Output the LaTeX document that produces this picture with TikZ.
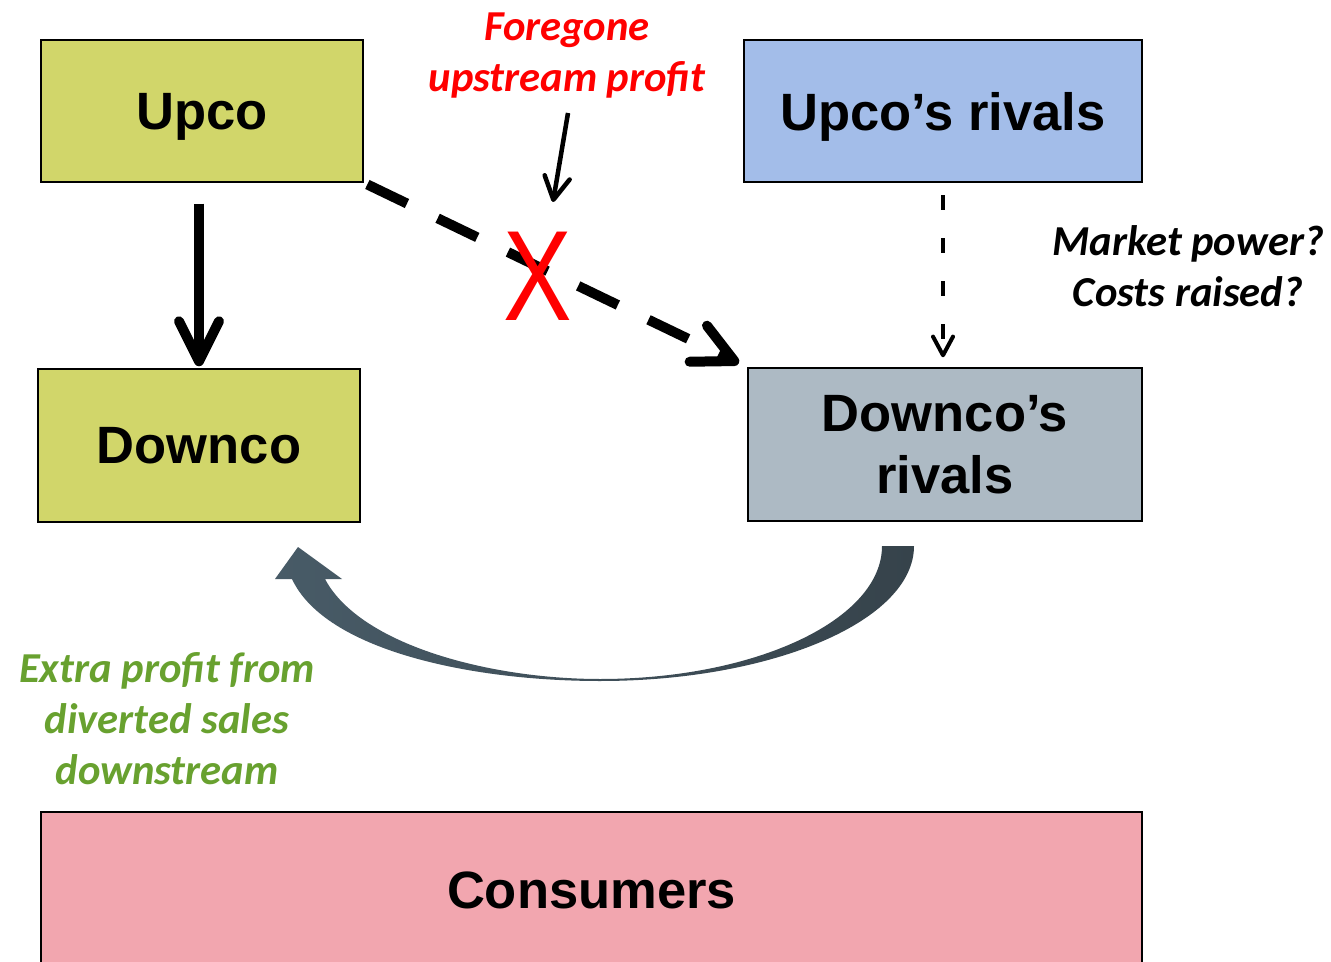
\documentclass[tikz,border=0pt]{standalone}
\usepackage{fontspec}
\setmainfont{Liberation Sans}
\newfontfamily\notefont{Carlito}
\usetikzlibrary{arrows.meta,calc}

\definecolor{firmgreen}{HTML}{D1D66A}
\definecolor{rivalblue}{HTML}{A3BDE9}
\definecolor{rivalgrey}{HTML}{ADBAC4}
\definecolor{consumerpink}{HTML}{F2A6AF}
\definecolor{notegreen}{HTML}{68A12F}
\definecolor{notered}{HTML}{FF0000}
\definecolor{slateleft}{HTML}{485B67}
\definecolor{slateright}{HTML}{36434B}

\begin{document}
\begin{tikzpicture}[x=0.75pt,y=-0.75pt,
  box/.style={draw=black, line width=1.1pt, align=center, inner sep=0pt,
    text depth=0pt, font=\bfseries\fontsize{39.4}{47}\selectfont},
  note/.style={align=center, inner sep=0pt, text depth=0pt,
    font=\notefont\bfseries\itshape\fontsize{32}{38.25}\selectfont},
  bigbarb/.style={-{Straight Barb[round,length=30pt,width=30pt]}},
  smallbarb/.style={-{Straight Barb[round,length=14pt,width=15pt]}}]

\useasboundingbox (0,0) rectangle (1331,962);

% firms and consumers
\node[box, fill=firmgreen, minimum width=241.5pt, minimum height=106.5pt] (upco) at (202,111) {Upco};
\node[box, fill=rivalblue, minimum width=298.5pt, minimum height=106.5pt] (urivals) at (943,111) {Upco’s rivals};
\node[box, fill=firmgreen, minimum width=241.5pt, minimum height=114.75pt] (downco) at (199,445.5) {Downco};
\node[box, fill=rivalgrey, minimum width=295.5pt, minimum height=114.75pt] (drivals) at (945,444.5) {Downco’s\\rivals};
\node[box, fill=consumerpink, minimum width=825.75pt, minimum height=117pt] (consumers) at (591.5,890) {Consumers};

% side notes
\node[note, text=notered] (foregone) at (567,52) {Foregone\\upstream profit};
\node[note, text=black] (power) at (1188,266) {Market power?\\Costs raised?};
\node[note, text=notegreen] (extra) at (167,719) {Extra profit from\\diverted sales\\downstream};

% supply links
\draw[line width=7.5pt, bigbarb, shorten <=15.75pt, shorten >=1.5pt]
  (upco.south -| downco.north) -- (downco.north);
\draw[line width=7.5pt, bigbarb, dash pattern=on 33pt off 25.5pt, shorten <=3pt, shorten >=7pt]
  (upco.south east) -- (drivals.north west);
\draw[line width=3pt, smallbarb, dash pattern=on 11.25pt off 21pt, shorten <=9.5pt, shorten >=7.5pt]
  (urivals.south) -- (urivals.south |- drivals.north);

% the cut-off supply
\node[text=notered, inner sep=0pt, text depth=0pt, font=\fontsize{96.4}{96.4}\selectfont]
  (cross) at (538,276) {\scalebox{0.8}[1]{X}};
\coordinate (fgtail) at (568,113);
\coordinate (fghead) at (553,202);
\draw[line width=3.4pt, -{Straight Barb[round,length=17pt,width=19pt]}] (fgtail) -- (fghead);

% sales diverted from the rivals back to Downco
\shade[left color=slateleft, right color=slateright]
  (882,546) -- (914,546)
  .. controls (914,620.6) and (773,681) .. (600,681)
  .. controls (470,681) and (325,650) .. (292,579)
  -- (275,579) -- (298,547) -- (342,579) -- (325,579)
  .. controls (360,645) and (490,679) .. (600,679)
  .. controls (756,679) and (882,619.5) .. (882,546) -- cycle;

\end{tikzpicture}
\end{document}
